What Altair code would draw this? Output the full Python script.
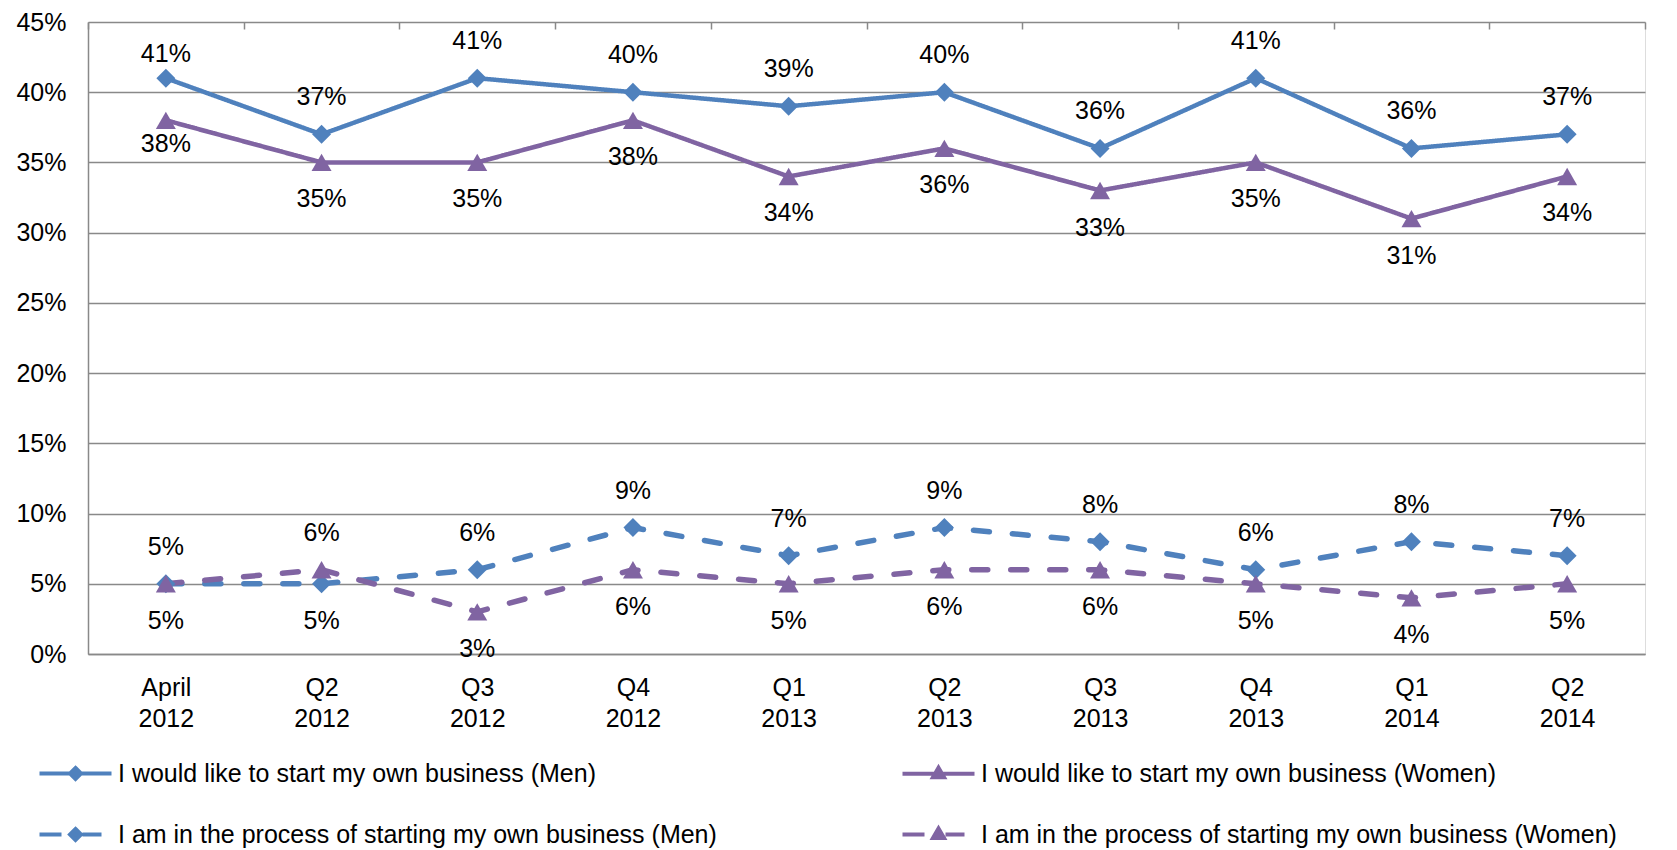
import altair as alt
import pandas as pd

categories = ["April 2012", "Q2 2012", "Q3 2012", "Q4 2012", "Q1 2013",
              "Q2 2013", "Q3 2013", "Q4 2013", "Q1 2014", "Q2 2014"]
series_names = [
    "I would like to start my own business (Men)",
    "I would like to start my own business (Women)",
    "I am in the process of starting my own business (Men)",
    "I am in the process of starting my own business (Women)",
]
like_men = [41, 37, 41, 40, 39, 40, 36, 41, 36, 37]
like_women = [38, 35, 35, 38, 34, 36, 33, 35, 31, 34]
process_men = [5, 5, 6, 9, 7, 9, 8, 6, 8, 7]
process_women = [5, 6, 3, 6, 5, 6, 6, 5, 4, 5]
y_ticks = [0, 5, 10, 15, 20, 25, 30, 35, 40, 45]

BLUE = "#4F81BD"
PURPLE = "#8064A2"
GRID = "#898989"
FONT = "Liberation Sans"
FS = 25

series_values = [like_men, like_women, process_men, process_women]
series_gender = ["Men", "Women", "Men", "Women"]
series_kind = ["like", "like", "process", "process"]

rows = []
for name, vals, g, k in zip(series_names, series_values, series_gender, series_kind):
    for i, (c, v) in enumerate(zip(categories, vals)):
        rows.append({"category": c, "idx": i, "series": name, "gender": g,
                     "kind": k, "value": v, "text": f"{v}%"})
df = pd.DataFrame(rows)


# label side: higher of each men/women pair above, lower below (tie: men above)
def side(r):
    other = df[(df.kind == r.kind) & (df.idx == r.idx) & (df.gender != r.gender)].value.iloc[0]
    if r.value > other or (r.value == other and r.gender == "Men"):
        return "above"
    return "below"


df["pos"] = df.apply(side, axis=1)
df["near"] = (df.idx == 0) & (df.kind == "like")

x_enc = alt.X("category:N", sort=categories,
              scale=alt.Scale(type="band", paddingInner=0, paddingOuter=0),
              axis=alt.Axis(title=None, labelExpr="split(datum.label, ' ')",
                            labelFontSize=FS, labelColor="black", labelAngle=0,
                            labelPadding=21, labelLineHeight=31, labelFont=FONT,
                            ticks=False, tickBand="extent", grid=True,
                            gridDash=[7, 3000], gridColor=GRID, gridWidth=1.5,
                            domainColor=GRID, domainWidth=1.5))
y_enc = alt.Y("value:Q", scale=alt.Scale(domain=[0, 45], nice=False),
              axis=alt.Axis(title=None, values=y_ticks,
                            labelExpr="datum.value + '%'", labelFontSize=FS,
                            labelColor="black", labelPadding=22, labelFont=FONT,
                            ticks=False, grid=True, gridColor=GRID, gridWidth=1.5,
                            domainColor=GRID, domainWidth=1.5))
color_enc = alt.Color("gender:N", scale=alt.Scale(domain=["Men", "Women"], range=[BLUE, PURPLE]),
                      legend=None)

base = alt.Chart(df)

lines = base.mark_line(strokeCap="round", strokeJoin="round").encode(
    x=x_enc, y=y_enc, color=color_enc, detail="series:N",
    strokeDash=alt.StrokeDash("kind:N", scale=alt.Scale(domain=["like", "process"],
                                                        range=[[1, 0], [16, 23]]),
                              legend=None),
    strokeWidth=alt.StrokeWidth("kind:N", scale=alt.Scale(domain=["like", "process"],
                                                          range=[4.5, 5.5]),
                                legend=None),
)

diamonds = base.transform_filter("datum.gender == 'Men'").mark_point(
    filled=True, opacity=1, size=361, shape="diamond").encode(x=x_enc, y=y_enc, color=color_enc)
triangles = base.transform_filter("datum.gender == 'Women'").mark_point(
    filled=True, opacity=1, size=400, shape="triangle-up").encode(x=x_enc, y=y_enc, color=color_enc)

texts = []
for pos, sign in [("above", -1), ("below", 1)]:
    for near, gap in [(False, 37), (True, 24)]:
        cond = f"datum.pos == '{pos}' && datum.near == {str(near).lower()}"
        texts.append(base.transform_filter(cond).mark_text(
            fontSize=FS, font=FONT, color="black", dy=sign * gap, baseline="middle", align="center"
        ).encode(x=x_enc, y=y_enc, text="text:N"))

# legend order as laid out (column by column)
legend_order = [series_names[0], series_names[2], series_names[1], series_names[3]]
legend_paths = [
    "M-3.6,0H3.6M0,-0.55L0.55,0L0,0.55L-0.55,0Z",
    "M-3.6,0H-1.4M0.7,0H2.6M0,-0.55L0.55,0L0,0.55L-0.55,0Z",
    "M-3.6,0H3.6M0,-0.6L0.55,0.35L-0.55,0.35Z",
    "M-3.6,0H-1.4M0.7,0H2.6M0,-0.6L0.55,0.35L-0.55,0.35Z",
]
legend_colors = [BLUE, BLUE, PURPLE, PURPLE]
leg = alt.Legend(title=None, orient="none", legendX=-25, legendY=739, columns=2,
                 columnPadding=177, rowPadding=33, labelFontSize=FS, labelFont=FONT,
                 labelColor="black", labelLimit=1000, labelOffset=30,
                 symbolStrokeWidth=4, symbolSize=400)
legend_layer = base.transform_filter("false").mark_point(filled=True, opacity=1, size=400).encode(
    x=x_enc, y=y_enc,
    fill=alt.Fill("series:N", scale=alt.Scale(domain=legend_order, range=legend_colors), legend=leg),
    stroke=alt.Stroke("series:N", scale=alt.Scale(domain=legend_order, range=legend_colors), legend=leg),
    shape=alt.Shape("series:N", scale=alt.Scale(domain=legend_order, range=legend_paths), legend=leg),
)

chart = alt.layer(lines, diamonds, triangles, *texts, legend_layer).properties(
    width=1557, height=632,
    autosize=alt.AutoSizeParams(type="none"),
    padding={"left": 80, "top": 14, "right": 20, "bottom": 194},
).configure_view(stroke=None).configure(font=FONT)

chart.save("out.html", embed_options={"renderer": "svg", "actions": False})
